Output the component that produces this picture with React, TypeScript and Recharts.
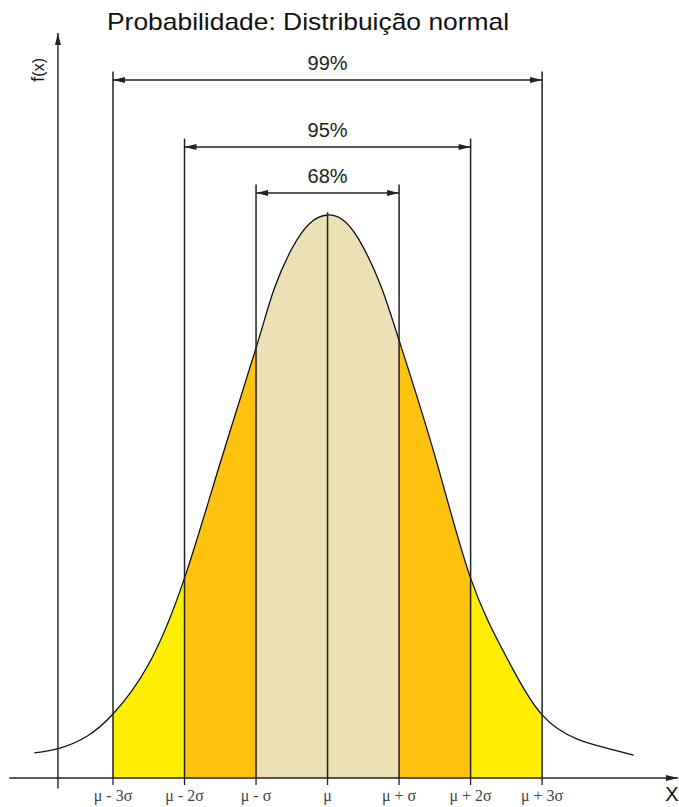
import { ComposedChart, Area, XAxis, YAxis, ReferenceLine } from 'recharts';

// curve: x in sigma units, f(x) height
const curveX = [-4.1, -3.74, -3.37, -3, -2.5, -2, -1.5, -1, -0.75, -0.5, -0.25, 0, 0.25, 0.5, 0.75, 1, 1.5, 2, 2.5, 3, 3.5, 3.9, 4.28];
const curveF = [0.0178, 0.0213, 0.0295, 0.0455, 0.081, 0.142, 0.224, 0.3055, 0.347, 0.376, 0.394, 0.4, 0.395, 0.377, 0.349, 0.311, 0.229, 0.142, 0.086, 0.0448, 0.0275, 0.0213, 0.0163];

const sigmaTicks = [-3, -2, -1, 0, 1, 2, 3];
const tickLabels = ['μ - 3σ', 'μ - 2σ', 'μ - σ', 'μ', 'μ + σ', 'μ + 2σ', 'μ + 3σ'];

const bandEdges = [-3, -2, -1, 1, 2, 3];
const bandColors = ['#FFEE00', '#FFC30F', '#EEE0B5', '#FFC30F', '#FFEE00'];

const coverageLabels = ['99%', '95%', '68%'];
const coverageSigma = [3, 2, 1];
const coverageLevels = [0.4959, 0.4483, 0.4156];

const INK = '#222';
const X_DOMAIN: [number, number] = [-4.45, 4.9];
const Y_TOP = 0.5293;
const Y_AXIS_AT = -3.77;

const data = curveX.map((x, i) => ({ x, f: curveF[i] }));

const x0 = curveX[0];
const xN = curveX[curveX.length - 1];
const off = (s: number) => (s - x0) / (xN - x0);

const stops: { o: number; c: string; a: number }[] = [
  { o: 0, c: '#fff', a: 0 },
  { o: off(bandEdges[0]), c: '#fff', a: 0 },
];
bandColors.forEach((c, i) => {
  stops.push({ o: off(bandEdges[i]), c, a: 1 });
  stops.push({ o: off(bandEdges[i + 1]), c, a: 1 });
});
stops.push({ o: off(bandEdges[bandEdges.length - 1]), c: '#fff', a: 0 });
stops.push({ o: 1, c: '#fff', a: 0 });

function arrowHead(tx: number, ty: number, fx: number, fy: number, len: number, half: number) {
  const dx = tx - fx;
  const dy = ty - fy;
  const d = Math.hypot(dx, dy) || 1;
  const ux = dx / d;
  const uy = dy / d;
  const bx = tx - ux * len;
  const by = ty - uy * len;
  return `M${tx},${ty}L${bx - uy * half},${by + ux * half}L${bx + uy * half},${by - ux * half}Z`;
}

const arrowLine = (both: boolean, width = 1.5) => (p: any) => (
  <g>
    <line x1={p.x1} y1={p.y1} x2={p.x2} y2={p.y2} stroke={INK} strokeWidth={width} />
    <path d={arrowHead(p.x2, p.y2, p.x1, p.y1, 12, 3)} fill={INK} />
    {both && <path d={arrowHead(p.x1, p.y1, p.x2, p.y2, 12, 3)} fill={INK} />}
  </g>
);

const peak = Math.max(...curveF);

export default function App() {
  return (
    <div style={{ position: 'absolute', left: 0, top: 0, width: 679, height: 807, background: '#fff' }}>
      <ComposedChart
        width={679}
        height={807}
        data={data}
        margin={{ top: 33, right: 1, left: 9.3, bottom: 0 }}
      >
        <defs>
          <linearGradient id="bands" x1="0" y1="0" x2="1" y2="0">
            {stops.map((s, i) => (
              <stop key={i} offset={s.o} stopColor={s.c} stopOpacity={s.a} />
            ))}
          </linearGradient>
        </defs>
        <XAxis
          dataKey="x"
          type="number"
          domain={X_DOMAIN}
          allowDataOverflow
          ticks={sigmaTicks}
          interval={0}
          height={29}
          axisLine={false}
          tickSize={7}
          tickMargin={5}
          tickLine={{ stroke: INK, strokeWidth: 1.3 }}
          tickFormatter={(v: number) => tickLabels[sigmaTicks.indexOf(v)]}
          tick={{ fill: '#444', fontSize: 16, fontFamily: '"Liberation Serif", serif' }}
        />
        <YAxis hide type="number" domain={[0, Y_TOP]} allowDataOverflow />
        <Area
          type="natural"
          dataKey="f"
          stroke="#111"
          strokeWidth={1.3}
          fill="url(#bands)"
          fillOpacity={1}
          isAnimationActive={false}
          dot={false}
          activeDot={false}
        />
        {bandEdges.map((s) => (
          <ReferenceLine
            key={`v${s}`}
            segment={[
              { x: s, y: 0 },
              { x: s, y: coverageLevels[coverageSigma.indexOf(Math.abs(s))] + 0.006 },
            ]}
            stroke={INK}
            strokeWidth={1.5}
            ifOverflow="visible"
          />
        ))}
        <ReferenceLine
          segment={[
            { x: 0, y: 0 },
            { x: 0, y: peak + 0.002 },
          ]}
          stroke={INK}
          strokeWidth={1.5}
          ifOverflow="visible"
        />
        {coverageLabels.map((label, i) => (
          <ReferenceLine
            key={label}
            segment={[
              { x: -coverageSigma[i], y: coverageLevels[i] },
              { x: coverageSigma[i], y: coverageLevels[i] },
            ]}
            shape={arrowLine(true)}
            ifOverflow="visible"
            label={{
              value: label,
              position: 'top',
              offset: 10,
              fill: INK,
              fontSize: 20,
              fontFamily: '"Liberation Sans", Arial, sans-serif',
            }}
          />
        ))}
        <ReferenceLine y={0} shape={arrowLine(false, 1.4)} ifOverflow="visible" />
        <ReferenceLine
          segment={[
            { x: Y_AXIS_AT, y: -0.0075 },
            { x: Y_AXIS_AT, y: Y_TOP },
          ]}
          shape={arrowLine(false, 1.4)}
          ifOverflow="visible"
        />
      </ComposedChart>
      <div
        style={{
          position: 'absolute',
          left: 107,
          top: 8,
          fontFamily: '"Liberation Sans", Arial, sans-serif',
          fontSize: 24,
          color: '#111',
          whiteSpace: 'nowrap',
          transform: 'scaleX(1.1)',
          transformOrigin: 'left center',
        }}
      >
        Probabilidade: Distribuição normal
      </div>
      <div
        style={{
          position: 'absolute',
          left: 37,
          top: 70,
          fontFamily: '"Liberation Sans", Arial, sans-serif',
          color: '#111',
          whiteSpace: 'nowrap',
          transform: 'translate(-50%, -50%) rotate(-90deg)',
          lineHeight: 1,
        }}
      >
        <span style={{ fontSize: 19 }}>f</span>
        <span style={{ fontSize: 16 }}>(x)</span>
      </div>
      <div
        style={{
          position: 'absolute',
          left: 672,
          top: 794,
          fontFamily: '"Liberation Sans", Arial, sans-serif',
          fontSize: 20,
          color: '#111',
          transform: 'translate(-50%, -50%)',
          lineHeight: 1,
        }}
      >
        X
      </div>
    </div>
  );
}
